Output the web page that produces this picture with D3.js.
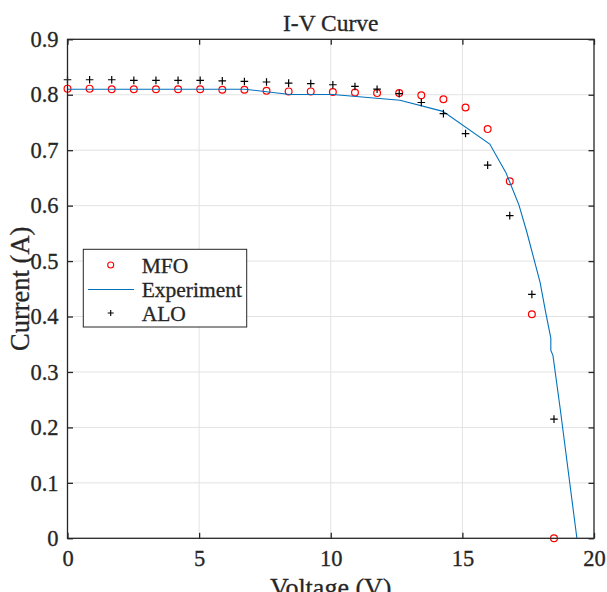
<!DOCTYPE html>
<html>
<head>
<meta charset="utf-8">
<script src="https://cdn.jsdelivr.net/npm/d3@7"></script>
<style>
  html, body { margin: 0; padding: 0; background: #fff; }
  svg { display: block; }
  text { font-family: "Liberation Serif", "DejaVu Serif", serif; fill: #262626;
         stroke: #262626; stroke-width: 0.3px; }
</style>
</head>
<body>
<svg id="chart" width="607" height="592"></svg>
<script>
// Sampled voltages (V) shared by both optimiser estimates
const voltages = [0, 0.84, 1.68, 2.52, 3.36, 4.2, 5.04, 5.88, 6.72, 7.56, 8.4, 9.24,
  10.08, 10.92, 11.76, 12.6, 13.44, 14.28, 15.12, 15.96, 16.8, 17.64, 18.48];

// Estimated current (A) – MFO
const mfoCurrent = [0.811, 0.811, 0.810, 0.810, 0.810, 0.810, 0.810, 0.809, 0.809, 0.807,
  0.806, 0.806, 0.805, 0.804, 0.803, 0.803, 0.799, 0.792, 0.777, 0.738, 0.644, 0.404, 0.0];

// Estimated current (A) – ALO
const aloCurrent = [0.827, 0.827, 0.827, 0.826, 0.826, 0.826, 0.826, 0.825, 0.824, 0.823,
  0.821, 0.820, 0.818, 0.815, 0.810, 0.802, 0.786, 0.766, 0.730, 0.673, 0.582, 0.440, 0.215];

// Measured I-V characteristic
const expVoltage = [0, 6.74, 8.45, 10.08, 12.63, 14.26, 16.04, 16.65, 17.15, 17.45,
  17.95, 18.17, 18.36, 18.36, 18.44, 18.71, 19.35];
const expCurrent = [0.810, 0.810, 0.8005, 0.8005, 0.790, 0.770, 0.711, 0.660, 0.601, 0.552,
  0.462, 0.406, 0.361, 0.339, 0.330, 0.236, 0.0];

const xTicks = [0, 5, 10, 15, 20];
const yTicks = [0, 0.1, 0.2, 0.3, 0.4, 0.5, 0.6, 0.7, 0.8, 0.9];
const legendLabels = ["MFO", "Experiment", "ALO"];

const svg = d3.select("#chart");
const pLeft = 67.5, pRight = 594, pTop = 39.3, pBottom = 538.3;

const x = d3.scaleLinear().domain([0, 20]).range([pLeft, pRight]);
const y = d3.scaleLinear().domain([0, 0.9]).range([pBottom, pTop]);

const axisColor = "#262626";
const gridColor = "#e3e3e3";
const lineColor = "#0072bd";

// Grid
const grid = svg.append("g");
grid.selectAll(".gx").data(xTicks.slice(1, -1)).join("line")
  .attr("x1", d => x(d)).attr("x2", d => x(d))
  .attr("y1", pTop).attr("y2", pBottom)
  .attr("stroke", gridColor).attr("stroke-width", 1);
grid.selectAll(".gy").data(yTicks.slice(1, -1)).join("line")
  .attr("x1", pLeft).attr("x2", pRight)
  .attr("y1", d => y(d)).attr("y2", d => y(d))
  .attr("stroke", gridColor).attr("stroke-width", 1);

// Plot area clip (slightly padded so markers on the axes stay whole)
svg.append("clipPath").attr("id", "plotClip").append("rect")
  .attr("x", pLeft - 5).attr("y", pTop).attr("width", pRight - pLeft + 5).attr("height", pBottom - pTop + 5);
const plot = svg.append("g").attr("clip-path", "url(#plotClip)");

// MFO circles
plot.selectAll(".mfo").data(voltages.map((v, i) => [v, mfoCurrent[i]])).join("circle")
  .attr("cx", d => x(d[0])).attr("cy", d => y(d[1])).attr("r", 3.4)
  .attr("fill", "none").attr("stroke", "#ff0000").attr("stroke-width", 1.2);

// Experimental curve
const line = d3.line().x(d => x(d[0])).y(d => y(d[1]));
plot.append("path")
  .datum(expVoltage.map((v, i) => [v, expCurrent[i]]))
  .attr("d", line).attr("fill", "none")
  .attr("stroke", lineColor).attr("stroke-width", 1.1);

// ALO plus markers
const plusPath = (cx, cy, s) => `M${cx - s},${cy}H${cx + s}M${cx},${cy - s}V${cy + s}`;
plot.selectAll(".alo").data(voltages.map((v, i) => [v, aloCurrent[i]])).join("path")
  .attr("d", d => plusPath(x(d[0]), y(d[1]), 3.8))
  .attr("stroke", "#000").attr("stroke-width", 1.2).attr("fill", "none");

// Axes (box with inward ticks on all sides)
const tickLen = 5.5;
svg.append("rect").attr("x", pLeft).attr("y", pTop)
  .attr("width", pRight - pLeft).attr("height", pBottom - pTop)
  .attr("fill", "none").attr("stroke", axisColor).attr("stroke-width", 1.3);

const bottomAxis = d3.axisBottom(x).tickValues(xTicks).tickSize(-tickLen).tickPadding(12)
  .tickFormat(d3.format("d"));
const topAxis = d3.axisTop(x).tickValues(xTicks).tickSize(-tickLen).tickFormat("");
const leftAxis = d3.axisLeft(y).tickValues(yTicks).tickSize(-tickLen).tickPadding(9)
  .tickFormat(d => d === 0 ? "0" : d3.format(".1f")(d));
const rightAxis = d3.axisRight(y).tickValues(yTicks).tickSize(-tickLen).tickFormat("");

function styleAxis(g) {
  g.select(".domain").remove();
  g.selectAll(".tick line").attr("stroke", axisColor).attr("stroke-width", 1.3);
  g.selectAll(".tick text").attr("fill", axisColor)
    .style("font-family", '"Liberation Serif", serif').style("font-size", "22.5px");
}
svg.append("g").attr("transform", `translate(0,${pBottom})`).call(bottomAxis).call(styleAxis);
svg.append("g").attr("transform", `translate(0,${pTop})`).call(topAxis).call(styleAxis);
svg.append("g").attr("transform", `translate(${pLeft},0)`).call(leftAxis).call(styleAxis);
svg.append("g").attr("transform", `translate(${pRight},0)`).call(rightAxis).call(styleAxis);

// Title and axis labels
svg.append("text").attr("x", (pLeft + pRight) / 2).attr("y", 31)
  .attr("text-anchor", "middle").style("font-size", "23.5px").text("I-V Curve");
svg.append("text").attr("x", (pLeft + pRight) / 2).attr("y", 596)
  .attr("text-anchor", "middle").style("font-size", "26px").text("Voltage (V)");
svg.append("text")
  .attr("transform", `translate(29,${(pTop + pBottom) / 2}) rotate(-90)`)
  .attr("text-anchor", "middle").style("font-size", "26.5px").text("Current (A)");

// Legend
const lg = svg.append("g");
lg.append("rect").attr("x", 83.3).attr("y", 249.3).attr("width", 163.4).attr("height", 77.7)
  .attr("fill", "#fff").attr("stroke", axisColor).attr("stroke-width", 1);
const rowY = [265, 289.5, 313];
lg.append("circle").attr("cx", 110.7).attr("cy", rowY[0]).attr("r", 3)
  .attr("fill", "none").attr("stroke", "#ff0000").attr("stroke-width", 1.1);
lg.append("line").attr("x1", 88).attr("x2", 134).attr("y1", rowY[1]).attr("y2", rowY[1])
  .attr("stroke", lineColor).attr("stroke-width", 1.1);
lg.append("path").attr("d", plusPath(110.7, rowY[2], 3))
  .attr("stroke", "#000").attr("stroke-width", 1.1);
lg.selectAll(".lt").data(legendLabels).join("text")
  .attr("x", 141.7).attr("y", (d, i) => rowY[i]).attr("dy", "0.35em")
  .style("font-size", "21.5px").text(d => d);
</script>
</body>
</html>
